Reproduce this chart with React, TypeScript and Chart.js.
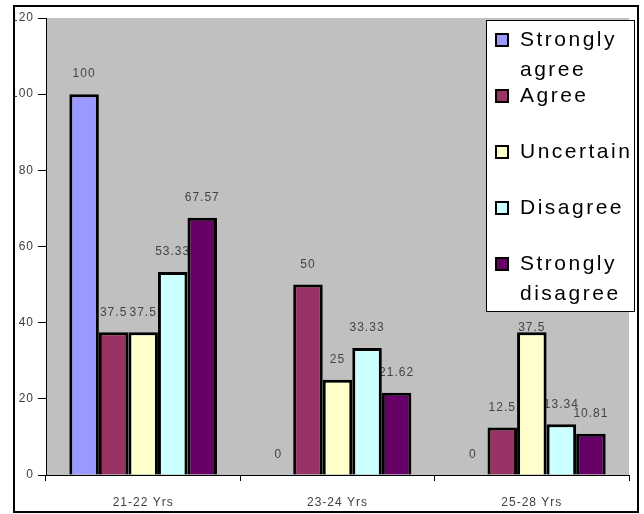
import React, { useEffect, useRef } from 'react';
import { Chart, registerables } from 'chart.js';

Chart.register(...registerables);

const categories = ['21-22 Yrs', '23-24 Yrs', '25-28 Yrs'];
const seriesNames = ['Strongly agree', 'Agree', 'Uncertain', 'Disagree', 'Strongly disagree'];
const stronglyAgree = [100, 0, 0];
const agree = [37.5, 50, 12.5];
const uncertain = [37.5, 25, 37.5];
const disagree = [53.33, 33.33, 13.34];
const stronglyDisagree = [67.57, 21.62, 10.81];
const seriesColors = ['#9999FF', '#993366', '#FFFFCC', '#CCFFFF', '#660066'];
const yMin = 0;
const yMax = 120;
const yStep = 20;

const FONT = '"Liberation Sans", Arial, sans-serif';

function legendBox(chart: any) {
  const a = chart.chartArea;
  return { x: a.right - 143, y: a.top + 2, w: 149, h: 292 };
}

const customPlugin = {
  id: 'customDraw',
  beforeDraw(chart: any) {
    const { ctx, chartArea: a } = chart;
    ctx.save();
    ctx.fillStyle = '#ffffff';
    ctx.fillRect(0, 0, chart.width, chart.height);
    ctx.fillStyle = '#C0C0C0';
    ctx.fillRect(a.left, a.top, a.right - a.left, a.bottom - a.top);
    ctx.restore();
    ctx.letterSpacing = '1px';
  },
  beforeDatasetsDraw(chart: any) {
    const ctx = chart.ctx;
    const lb = legendBox(chart);
    ctx.save();
    ctx.font = `12px ${FONT}`;
    ctx.fillStyle = '#444444';
    ctx.textAlign = 'center';
    ctx.textBaseline = 'middle';
    ctx.letterSpacing = '1px';
    chart.data.datasets.forEach((ds: any, i: number) => {
      const meta = chart.getDatasetMeta(i);
      meta.data.forEach((el: any, j: number) => {
        const txt = String(ds.data[j]);
        let y = el.y - 20;
        const w = ctx.measureText(txt).width;
        const inLegend =
          el.x + w / 2 > lb.x && el.x - w / 2 < lb.x + lb.w && y + 6 > lb.y && y - 6 < lb.y + lb.h;
        if (inLegend) y = lb.y + lb.h + 16;
        ctx.fillText(txt, el.x, y);
      });
    });
    ctx.restore();
  },
  afterDraw(chart: any) {
    const ctx = chart.ctx;
    const lb = legendBox(chart);
    ctx.save();
    // legend
    const bx = lb.x;
    const by = lb.y;
    ctx.fillStyle = '#ffffff';
    ctx.fillRect(bx, by, lb.w, lb.h);
    ctx.strokeStyle = '#000000';
    ctx.lineWidth = 1;
    ctx.strokeRect(bx + 0.5, by + 0.5, lb.w - 1, lb.h - 1);
    ctx.font = `21px ${FONT}`;
    ctx.letterSpacing = '2.5px';
    ctx.textAlign = 'left';
    ctx.textBaseline = 'middle';
    chart.data.datasets.forEach((ds: any, i: number) => {
      const cy = by + 20 + i * 56;
      ctx.fillStyle = ds.backgroundColor;
      ctx.fillRect(bx + 10, cy - 6, 12, 12);
      ctx.lineWidth = 2;
      ctx.strokeStyle = '#000';
      ctx.strokeRect(bx + 10, cy - 6, 12, 12);
      ctx.fillStyle = '#000';
      const lines = String(ds.label).split(' ');
      lines.forEach((ln: string, k: number) => {
        ctx.fillText(ln, bx + 34, cy + k * 30);
      });
    });
    // outer frame (clips left labels)
    ctx.letterSpacing = '0px';
    ctx.fillStyle = '#ffffff';
    ctx.fillRect(0, 0, 13, chart.height);
    ctx.lineWidth = 2;
    ctx.strokeStyle = '#000';
    ctx.strokeRect(14, 6, 624, 506);
    ctx.restore();
  },
};

export default function App() {
  const canvasRef = useRef<HTMLCanvasElement | null>(null);

  useEffect(() => {
    const canvas = canvasRef.current;
    if (!canvas) return;
    const series = [stronglyAgree, agree, uncertain, disagree, stronglyDisagree];
    const chart = new Chart(canvas, {
      type: 'bar',
      data: {
        labels: categories,
        datasets: series.map((d, i) => ({
          label: seriesNames[i],
          data: d,
          backgroundColor: seriesColors[i],
          borderColor: '#000000',
          borderWidth: 3,
          categoryPercentage: 0.76,
          barPercentage: 1,
        })),
      },
      options: {
        responsive: false,
        animation: false,
        layout: { padding: { left: 0, top: 18, right: 15, bottom: 0 } },
        plugins: {
          legend: { display: false },
          tooltip: { enabled: false },
        },
        scales: {
          x: {
            offset: true,
            grid: {
              display: true,
              drawOnChartArea: false,
              drawTicks: true,
              tickLength: 6,
              color: '#000000',
              offset: true,
            },
            border: { display: true, color: '#000000', width: 1 },
            ticks: {
              color: '#404040',
              font: { family: FONT, size: 12 },
              padding: 14,
              maxRotation: 0,
            },
            afterFit: (s: any) => {
              s.height = 39;
            },
          },
          y: {
            min: yMin,
            max: yMax,
            ticks: {
              stepSize: yStep,
              color: '#404040',
              font: { family: FONT, size: 12 },
              padding: 4,
            },
            grid: {
              drawOnChartArea: false,
              drawTicks: true,
              tickLength: 8,
              color: '#000000',
            },
            border: { display: true, color: '#000000', width: 1 },
            afterFit: (s: any) => {
              s.width = 46;
            },
          },
        },
      },
      plugins: [customPlugin],
    } as any);
    return () => chart.destroy();
  }, []);

  return (
    <div style={{ position: 'absolute', left: 0, top: 0, width: 644, height: 514 }}>
      <canvas ref={canvasRef} width={644} height={514} style={{ display: 'block' }} />
    </div>
  );
}
